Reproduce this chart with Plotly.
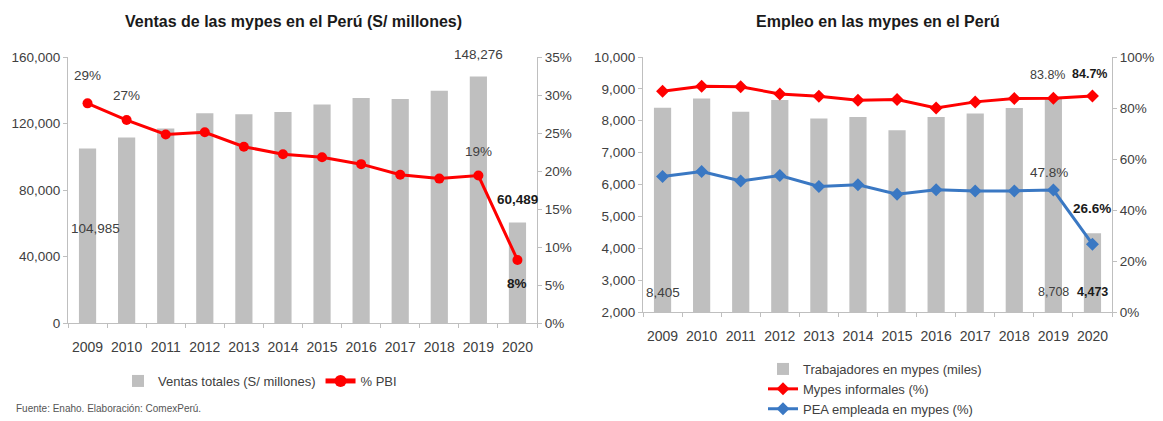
import plotly.graph_objects as go

# ---- data ----
years = ["2009", "2010", "2011", "2012", "2013", "2014",
         "2015", "2016", "2017", "2018", "2019", "2020"]

# Ventas de las mypes (S/ millones) and share of GDP (%)
ventas_totales = [104985, 111600, 117000, 126100, 125500, 126900,
                  131400, 135400, 134800, 139700, 148276, 60489]
pbi_pct = [28.9, 26.7, 24.8, 25.1, 23.2, 22.2, 21.8, 20.9, 19.5, 19.0, 19.4, 8.3]

# Empleo en las mypes
trabajadores = [8405, 8700, 8280, 8650, 8070, 8120,
                7705, 8120, 8225, 8400, 8708, 4473]
mypes_informales = [86.6, 88.5, 88.3, 85.5, 84.6, 83.0,
                    83.3, 80.0, 82.4, 83.7, 83.8, 84.7]
pea_empleada = [53.1, 55.1, 51.4, 53.5, 49.2, 49.9,
                46.2, 47.9, 47.5, 47.5, 47.8, 26.6]

left_ticks = [0, 40000, 80000, 120000, 160000]
left_pct_ticks = [0, 5, 10, 15, 20, 25, 30, 35]
right_ticks = [2000, 3000, 4000, 5000, 6000, 7000, 8000, 9000, 10000]
right_pct_ticks = [0, 20, 40, 60, 80, 100]

# ---- styling ----
W, H = 1163, 421
FONT = "Liberation Sans, Arial"
GREY_BAR = "#BFBFBF"
AXIS = "#BFBFBF"
TXT = "#404040"
RED = "#FF0000"
BLUE = "#3A78C3"
BAR_W = 0.44


def px_x(p):
    return p / W


def px_y(p):
    return 1 - p / H


fig = go.Figure()

# Left chart: sales bars + % PBI line
fig.add_trace(go.Bar(
    x=years, y=ventas_totales, name="Ventas totales (S/ millones)",
    marker=dict(color=GREY_BAR, line=dict(width=0)), width=BAR_W,
    xaxis="x", yaxis="y", legend="legend",
))
fig.add_trace(go.Scatter(
    x=years, y=pbi_pct, name="% PBI", mode="lines+markers",
    line=dict(color=RED, width=3), marker=dict(symbol="circle", size=10, color=RED),
    xaxis="x", yaxis="y2", legend="legend", cliponaxis=False,
))

# Right chart: workers bars + two percentage lines
fig.add_trace(go.Bar(
    x=years, y=trabajadores, name="Trabajadores en mypes (miles)",
    marker=dict(color=GREY_BAR, line=dict(width=0)), width=BAR_W,
    xaxis="x2", yaxis="y3", legend="legend2",
))
fig.add_trace(go.Scatter(
    x=years, y=mypes_informales, name="Mypes informales (%)", mode="lines+markers",
    line=dict(color=RED, width=3), marker=dict(symbol="diamond", size=10, color=RED),
    xaxis="x2", yaxis="y4", legend="legend2", cliponaxis=False,
))
fig.add_trace(go.Scatter(
    x=years, y=pea_empleada, name="PEA empleada en mypes (%)", mode="lines+markers",
    line=dict(color=BLUE, width=3), marker=dict(symbol="diamond", size=10, color=BLUE),
    xaxis="x2", yaxis="y4", legend="legend2", cliponaxis=False,
))

tick_font = dict(family=FONT, size=14, color=TXT)
ytick_font = dict(family=FONT, size=13.5, color=TXT)
cat_range = [-0.5, len(years) - 0.5]
common_x = dict(type="category", range=cat_range, showline=True, linecolor=AXIS, linewidth=1,
                ticks="outside", ticklen=4, tickcolor=AXIS, tickson="boundaries",
                showgrid=False, tickfont=tick_font, ticklabelstandoff=11, tickangle=0,
                automargin=False)
common_y = dict(showline=True, linecolor=AXIS, linewidth=1, ticks="outside",
                ticklen=4, tickcolor=AXIS, showgrid=False, zeroline=False,
                tickfont=ytick_font, automargin=False)


def pct_text(vals):
    return [f"{v}%" for v in vals]


legend_font = dict(family=FONT, size=13, color=TXT)

fig.update_layout(
    width=W, height=H, margin=dict(l=0, r=0, t=0, b=0, autoexpand=False),
    paper_bgcolor="white", plot_bgcolor="white",
    showlegend=True,
    font=dict(family=FONT, color=TXT),
    xaxis=dict(domain=[px_x(68), px_x(537)], anchor="y", **common_x),
    yaxis=dict(domain=[px_y(323), px_y(57)], anchor="x", range=[0, 160000],
               tickvals=left_ticks, tickformat=",", **common_y),
    yaxis2=dict(overlaying="y", side="right", anchor="x", range=[0, 35],
                tickvals=left_pct_ticks, ticktext=pct_text(left_pct_ticks), **common_y),
    xaxis2=dict(domain=[px_x(643), px_x(1112)], anchor="y3", **common_x),
    yaxis3=dict(domain=[px_y(312), px_y(57)], anchor="x2", range=[2000, 10000],
                tickvals=right_ticks, tickformat=",", **common_y),
    yaxis4=dict(overlaying="y3", side="right", anchor="x2", range=[0, 100],
                tickvals=right_pct_ticks, ticktext=pct_text(right_pct_ticks), **common_y),
    legend=dict(orientation="h", xref="container", yref="container",
                x=px_x(118), y=px_y(366), xanchor="left", yanchor="top",
                font=legend_font, bgcolor="rgba(0,0,0,0)",
                itemsizing="constant", tracegroupgap=0),
    legend2=dict(orientation="v", xref="container", yref="container",
                 x=px_x(763), y=px_y(354), xanchor="left", yanchor="top",
                 font=legend_font, bgcolor="rgba(0,0,0,0)", tracegroupgap=0),
)

ann = []
title_font = dict(family=FONT, size=16, color="#1a1a1a")
ann.append(dict(text="<b>Ventas de las mypes en el Perú (S/ millones)</b>", x=px_x(293),
                y=px_y(22), xref="paper", yref="paper", xanchor="center", yanchor="middle",
                showarrow=False, font=title_font))
ann.append(dict(text="<b>Empleo en las mypes en el Perú</b>", x=px_x(878),
                y=px_y(22), xref="paper", yref="paper", xanchor="center", yanchor="middle",
                showarrow=False, font=title_font))
ann.append(dict(text="Fuente: Enaho. Elaboración: ComexPerú.", x=px_x(14), y=px_y(408),
                xref="paper", yref="paper", xanchor="left", yanchor="middle", showarrow=False,
                font=dict(family=FONT, size=10, color="#555555")))

lab_font = dict(family=FONT, size=13.5, color=TXT)
bold_font = dict(family=FONT, size=13.5, color="#1a1a1a")
small_font = dict(family=FONT, size=12.5, color=TXT)
small_bold = dict(family=FONT, size=12.5, color="#1a1a1a")


def fmt_int(v):
    return f"{v:,.0f}"


def fmt_pct0(v):
    return f"{v:.0f}%"


def fmt_pct1(v):
    return f"{v:.1f}%"


# category positions (by index) for value labels
i09, i10, i19, i20 = 0, 1, 10, 11


def label(x, y, xref, yref, text, font, dy, dx=0):
    return dict(x=x, y=y, xref=xref, yref=yref, text=text, yshift=dy, xshift=dx,
                xanchor="center", yanchor="middle", showarrow=False, font=font)


# Left chart value labels
ann += [
    label(i09, pbi_pct[i09], "x", "y2", fmt_pct0(pbi_pct[i09]), lab_font, 28),
    label(i10, pbi_pct[i10], "x", "y2", fmt_pct0(pbi_pct[i10]), lab_font, 25),
    label(i19, pbi_pct[i19], "x", "y2", fmt_pct0(pbi_pct[i19]), lab_font, 24),
    label(i20, pbi_pct[i20], "x", "y2", "<b>" + fmt_pct0(pbi_pct[i20]) + "</b>", bold_font, -24),
    label(i19, ventas_totales[i19], "x", "y", fmt_int(ventas_totales[i19]), lab_font, 22),
    label(i20, ventas_totales[i20], "x", "y", "<b>" + fmt_int(ventas_totales[i20]) + "</b>", bold_font, 23),
    label(i09, ventas_totales[i09], "x", "y", fmt_int(ventas_totales[i09]), lab_font, -80, 8),
]

# Right chart value labels
ann += [
    label(i19, mypes_informales[i19], "x2", "y4", fmt_pct1(mypes_informales[i19]), small_font, 23, -6),
    label(i20, mypes_informales[i20], "x2", "y4", "<b>" + fmt_pct1(mypes_informales[i20]) + "</b>",
          small_bold, 22, -3),
    label(i19, pea_empleada[i19], "x2", "y4", fmt_pct1(pea_empleada[i19]), lab_font, 18, -4),
    label(i20, pea_empleada[i20], "x2", "y4", "<b>" + fmt_pct1(pea_empleada[i20]) + "</b>", bold_font, 36),
    label(i09, 2000, "x2", "y3", fmt_int(trabajadores[i09]), lab_font, 20),
    label(i19, 2000, "x2", "y3", fmt_int(trabajadores[i19]), small_font, 20),
    label(i20, 2000, "x2", "y3", "<b>" + fmt_int(trabajadores[i20]) + "</b>", small_bold, 20),
]

fig.update_layout(annotations=ann)
fig.write_html("out.html")
